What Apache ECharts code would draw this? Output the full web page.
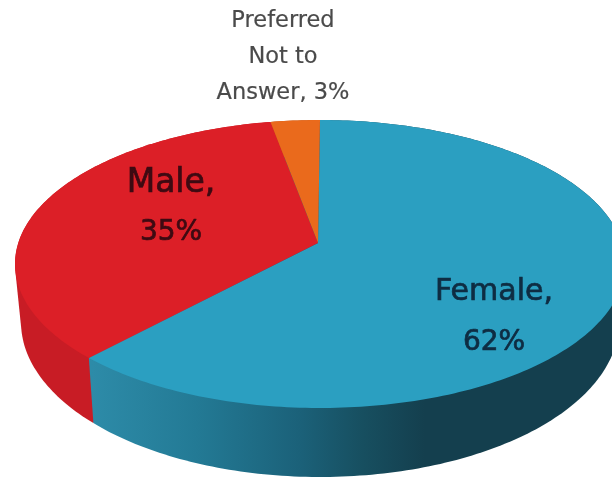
<!DOCTYPE html>
<html><head><meta charset="utf-8">
<style>html,body{margin:0;padding:0;background:#fff}#c{width:612px;height:477px}</style>
<script src="https://cdn.jsdelivr.net/npm/echarts@6/dist/echarts.min.js"></script>
</head><body><div id="c"></div>
<script>
const categories = ['Female', 'Male', 'Preferred Not to Answer'];
const values = [62, 35, 3];
const topColors = ['#2b9fc1', '#dc1f27', '#ea6a1c'];

const chart = echarts.init(document.getElementById('c'), null, {renderer: 'canvas'});
const total = values.reduce((a, b) => a + b, 0);
const topE = {cx: 320, cy: 264, rx: 305, ry: 144};
const botE = {cx: 320, cy: 322, rx: 299, ry: 155};
const apex = [318, 243];
const persp = 0.146;

function proj(theta) {
  const x = Math.sin(theta), y = Math.cos(theta);
  const d = 1 + persp * y;
  return [x * Math.sqrt(1 - persp * persp) / d, (y + persp) / d];
}
function onE(E, p) { return [E.cx + E.rx * p[0], E.cy - E.ry * p[1]]; }
function arc(E, a0, a1) {
  const n = Math.max(2, Math.ceil((a1 - a0) / (Math.PI / 180)));
  const pts = [];
  for (let i = 0; i <= n; i++) pts.push(onE(E, proj(a0 + (a1 - a0) * i / n)));
  return pts;
}
function range(i) {
  let s = 0;
  for (let k = 0; k < i; k++) s += values[k];
  return [s / total * 2 * Math.PI, (s + values[i]) / total * 2 * Math.PI];
}
function hull(points) {
  const p = points.slice().sort((a, b) => a[0] - b[0] || a[1] - b[1]);
  const cross = (o, a, b) => (a[0] - o[0]) * (b[1] - o[1]) - (a[1] - o[1]) * (b[0] - o[0]);
  const lo = [], up = [];
  for (const q of p) {
    while (lo.length > 1 && cross(lo[lo.length - 2], lo[lo.length - 1], q) <= 0) lo.pop();
    lo.push(q);
  }
  for (const q of p.slice().reverse()) {
    while (up.length > 1 && cross(up[up.length - 2], up[up.length - 1], q) <= 0) up.pop();
    up.push(q);
  }
  return lo.slice(0, -1).concat(up.slice(0, -1));
}
const sideFills = [
  new echarts.graphic.LinearGradient(92, 0, 612, 0, [
    {offset: 0, color: '#2d8ba8'}, {offset: 0.2, color: '#237a95'},
    {offset: 0.4, color: '#1b6179'}, {offset: 0.52, color: '#174f60'},
    {offset: 0.64, color: '#143f4e'}, {offset: 1, color: '#143f4e'}], true),
  '#c81c25',
  '#b8561a'
];
const sideOrder = [10, 5, 1];
const labelSpec = [
  {lines: i => [categories[i] + ',', values[i] + '%'], x: 494, ys: [292, 343], sizes: [30, 28], color: '#0e2c42', sw: 0.7},
  {lines: i => [categories[i] + ',', values[i] + '%'], x: 171, ys: [183, 233], sizes: [33, 28], color: '#3d0a12', sw: 0.7},
  {lines: i => ['Preferred', 'Not to', 'Answer, ' + values[i] + '%'], x: 283, ys: [21, 57, 93], sizes: [22.5, 22.5, 22.5], color: '#4a4a4a', sw: 0.2}
];

chart.setOption({
  animation: false,
  backgroundColor: '#fff',
  series: [
    {
      type: 'custom', coordinateSystem: 'none', silent: true, z: 1,
      data: values.map(v => [v]),
      renderItem(params, api) {
        api.value(0);
        const [a0, a1] = range(params.dataIndex);
        const pts = hull(arc(topE, a0, a1).concat(arc(botE, a0, a1)));
        return {type: 'polygon', z2: sideOrder[params.dataIndex], shape: {points: pts},
          style: {fill: sideFills[params.dataIndex]}};
      }
    },
    {
      type: 'custom', coordinateSystem: 'none', silent: true, z: 2,
      data: values.map(v => [v]),
      renderItem(params, api) {
        api.value(0);
        const i = params.dataIndex;
        const [a0, a1] = range(i);
        return {type: 'polygon', shape: {points: [apex].concat(arc(topE, a0, a1))},
          style: {fill: topColors[i]}};
      }
    },
    {
      type: 'custom', coordinateSystem: 'none', silent: true, z: 3,
      data: values.map(v => [v]),
      renderItem(params, api) {
        api.value(0);
        const i = params.dataIndex, L = labelSpec[i];
        return {type: 'group', children: L.lines(i).map((t, k) => ({
          type: 'text',
          style: {text: t, x: L.x, y: L.ys[k], align: 'center', verticalAlign: 'middle',
            fontFamily: 'DejaVu Sans', fontSize: L.sizes[k], fill: L.color,
            stroke: L.color, lineWidth: L.sw}
        }))};
      }
    }
  ]
});
</script></body></html>
